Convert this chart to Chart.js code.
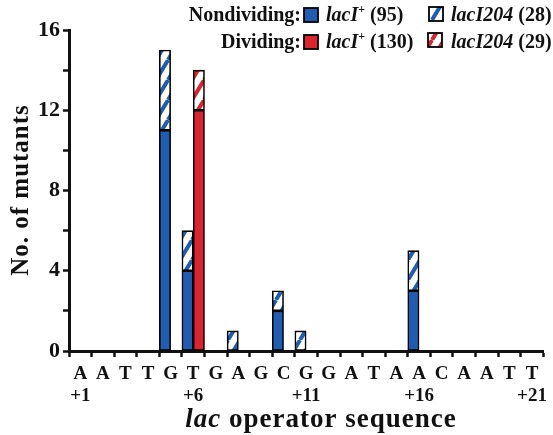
<!DOCTYPE html>
<html lang="en">
  <head>
    <meta charset="UTF-8" />
    <title>lac operator mutants</title>
    <style>
      html, body { margin: 0; padding: 0; background: #fff; }
      #wrap { position: relative; width: 553px; height: 435px; }
    </style>
  </head>
  <body>
    <div id="wrap"><canvas id="barCanvas" width="553" height="435"></canvas></div>

    <script src="https://cdn.jsdelivr.net/npm/chart.js@4.4.1/dist/chart.umd.min.js"></script>
    <script>
        // lac operator positions +1 .. +21
        const bases = ['A','A','T','T','G','T','G','A','G','C','G','G','A','T','A','A','C','A','A','T','T'];
        const posLabels = ['+1','','','','','+6','','','','','+11','','','','','+16','','','','','+21'];

        // mutant counts per position
        const nondivWild = [0,0,0,0,11,4,0,0,0,2,0,0,0,0,0,3,0,0,0,0,0];
        const nondiv204  = [0,0,0,0,4,2,0,1,0,1,1,0,0,0,0,2,0,0,0,0,0];
        const divWild    = [0,0,0,0,0,12,0,0,0,0,0,0,0,0,0,0,0,0,0,0,0];
        const div204     = [0,0,0,0,0,2,0,0,0,0,0,0,0,0,0,0,0,0,0,0,0];

        const yTicks = [0, 4, 8, 12, 16];

        const BLUE = '#1f5db3';
        const RED = '#dc2430';
        const SERIF = '"Liberation Serif", "DejaVu Serif", serif';

        function hatch(color) {
            let c = document.createElement('canvas');
            c.width = 12; c.height = 20;
            let g = c.getContext('2d');
            g.fillStyle = '#fff';
            g.fillRect(0, 0, 12, 20);
            g.strokeStyle = color;
            g.lineWidth = 4;
            g.beginPath();
            g.moveTo(-12, 20); g.lineTo(0, 0);
            g.moveTo(0, 20); g.lineTo(12, 0);
            g.moveTo(12, 20); g.lineTo(24, 0);
            g.stroke();
            return g.createPattern(c, 'repeat');
        }
        const blueHatch = hatch(BLUE);
        const redHatch = hatch(RED);

        // draw a row of text pieces with different fonts
        function runs(ctx, x, y, parts) {
            parts.forEach(p => {
                ctx.font = p.font;
                ctx.fillText(p.t, x, y + (p.dy || 0));
                x += ctx.measureText(p.t).width;
            });
            return x;
        }
        function runsWidth(ctx, parts) {
            let w = 0;
            parts.forEach(p => { ctx.font = p.font; w += ctx.measureText(p.t).width; });
            return w;
        }
        function swatch(ctx, x, y, fill) {
            ctx.fillStyle = fill;
            ctx.fillRect(x, y, 14, 14);
            ctx.strokeStyle = '#000';
            ctx.lineWidth = 1.8;
            ctx.strokeRect(x, y, 14, 14);
        }

        const bold = '700 20px ' + SERIF;
        const ital = 'italic 700 20px ' + SERIF;
        const sup = '700 12px ' + SERIF;

        const extras = {
            id: 'extras',
            afterDraw(chart) {
                const ctx = chart.ctx;
                ctx.save();
                ctx.fillStyle = '#111';
                ctx.textBaseline = 'alphabetic';

                // legend
                ctx.font = bold;
                ctx.textAlign = 'right';
                ctx.fillText('Nondividing:', 301, 21);
                ctx.fillText('Dividing:', 301, 48);
                ctx.textAlign = 'left';
                swatch(ctx, 304, 8, BLUE);
                swatch(ctx, 304, 35, RED);
                ctx.fillStyle = '#111';
                runs(ctx, 326, 21, [{t: 'lacI', font: ital}, {t: '+', font: sup, dy: -8}, {t: ' (95)', font: bold}]);
                runs(ctx, 326, 48, [{t: 'lacI', font: ital}, {t: '+', font: sup, dy: -8}, {t: ' (130)', font: bold}]);
                swatch(ctx, 429, 7, blueHatch);
                swatch(ctx, 428, 33, redHatch);
                ctx.fillStyle = '#111';
                runs(ctx, 451, 21, [{t: 'lacI204', font: ital}, {t: ' (28)', font: bold}]);
                runs(ctx, 451, 48, [{t: 'lacI204', font: ital}, {t: ' (29)', font: bold}]);

                // x axis title
                ctx.letterSpacing = '1px';
                const xt = [{t: 'lac', font: 'italic 700 27px ' + SERIF}, {t: ' operator sequence', font: '700 27px ' + SERIF}];
                runs(ctx, 321 - runsWidth(ctx, xt) / 2, 427, xt);

                // y axis title
                ctx.letterSpacing = '1px';
                ctx.translate(22, 190);
                ctx.rotate(-Math.PI / 2);
                ctx.textAlign = 'center';
                ctx.textBaseline = 'middle';
                ctx.font = '700 25px ' + SERIF;
                ctx.fillText('No. of mutants', 0, 0);
                ctx.restore();
            }
        };

        const barStyle = { borderColor: '#000', borderWidth: 1.6, borderSkipped: false, barPercentage: 1, categoryPercentage: 1 };

        let barChartDraw = function () {
            let ctx = document.getElementById('barCanvas').getContext('2d');
            window.barChart = new Chart(ctx, {
                type: 'bar',
                data: {
                    labels: bases.map((b, i) => [b, posLabels[i]]),
                    datasets: [
                        Object.assign({ label: 'Nondividing lacI+', data: nondivWild, backgroundColor: BLUE, stack: 'nd' }, barStyle),
                        Object.assign({ label: 'Nondividing lacI204', data: nondiv204, backgroundColor: blueHatch, stack: 'nd' }, barStyle),
                        Object.assign({ label: 'Dividing lacI+', data: divWild, backgroundColor: RED, stack: 'd' }, barStyle),
                        Object.assign({ label: 'Dividing lacI204', data: div204, backgroundColor: redHatch, stack: 'd' }, barStyle)
                    ]
                },
                options: {
                    responsive: false,
                    animation: false,
                    layout: { padding: { top: 30, right: 5, left: 0, bottom: 0 } },
                    plugins: { legend: { display: false }, tooltip: { enabled: false } },
                    scales: {
                        x: {
                            stacked: true,
                            afterFit: s => { s.height = 84; },
                            border: { display: true, color: '#111', width: 3 },
                            grid: { drawOnChartArea: false, drawTicks: true, tickLength: 6, tickWidth: 2.5, tickColor: '#111', offset: true },
                            ticks: { color: '#111', padding: 6, maxRotation: 0, autoSkip: false, font: { family: SERIF, size: 19, weight: '700', lineHeight: 1.16 } }
                        },
                        y: {
                            stacked: true,
                            min: 0,
                            max: 16,
                            afterFit: s => { s.width = 69; },
                            border: { display: true, color: '#111', width: 3 },
                            grid: { drawOnChartArea: false, drawTicks: true, tickLength: 6, tickWidth: 2.5, tickColor: '#111' },
                            ticks: {
                                stepSize: 2,
                                padding: 3,
                                color: '#111',
                                font: { family: SERIF, size: 22, weight: '700' },
                                callback: v => yTicks.includes(v) ? String(v) : ''
                            }
                        }
                    }
                },
                plugins: [extras]
            });
        };

        window.onload = function () {
            barChartDraw();
        };
    </script>
  </body>
</html>
